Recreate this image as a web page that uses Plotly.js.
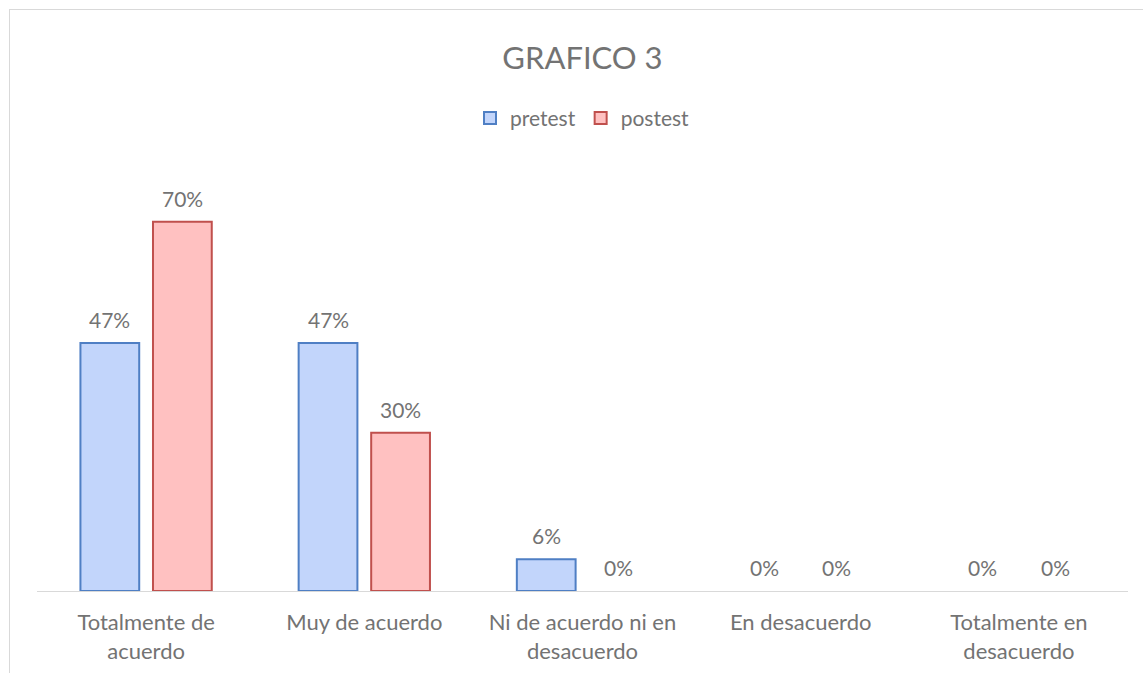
<!DOCTYPE html>
<html>
<head>
<meta charset="utf-8">
<script src="https://cdn.plot.ly/plotly-3.0.1.min.js"></script>
<style>
  html, body { margin: 0; padding: 0; background: #fff; }
  #frame { position: absolute; left: 9px; top: 9px; width: 1140px; height: 670px; border: 1px solid #d9d9d9; box-sizing: border-box; }
  #chart { position: absolute; left: 0; top: 0; width: 1143px; height: 673px; }
</style>
</head>
<body>
<div id="frame"></div>
<div id="chart"></div>
<script>
const categories = ["Totalmente de<br>acuerdo", "Muy de acuerdo", "Ni de acuerdo ni en<br>desacuerdo", "En desacuerdo", "Totalmente en<br>desacuerdo"];
const seriesNames = ["pretest", "postest"];
const pretest = [47, 47, 6, 0, 0];
const postest = [70, 30, 0, 0, 0];

const FONT = "Lato, 'Open Sans', sans-serif";
const GRAY = "#737373";
const W = 1143, H = 673;
const M = { l: 37, r: 15, t: 169, b: 82 };
const BARGAP = 0.335, GROUPGAP = 0.19;

const fills = ["#c2d5fb", "#ffc1c1"];
const edges = ["#4f7fc4", "#c0504d"];
const data = [pretest, postest];

const traces = data.map((vals, i) => ({
  type: "bar", name: seriesNames[i], x: categories, y: vals,
  marker: { color: fills[i], line: { color: edges[i], width: vals.map(v => v > 0 ? 2 : 0) } },
  hoverinfo: "skip"
}));

// data labels above each bar, placed through the axes
const catWidth = (W - M.l - M.r) / categories.length;
const slot = catWidth * (1 - BARGAP) / 2;
const annotations = [];
data.forEach((vals, i) => {
  vals.forEach((v, j) => {
    annotations.push({
      x: categories[j], y: v, xref: "x", yref: "y",
      text: v + "%", showarrow: false,
      xshift: (i === 0 ? -1 : 1) * slot / 2,
      yanchor: "bottom", yshift: 9,
      font: { family: FONT, size: 21, color: GRAY }
    });
  });
});

const layout = {
  width: W, height: H,
  paper_bgcolor: "rgba(0,0,0,0)", plot_bgcolor: "rgba(0,0,0,0)",
  margin: M,
  font: { family: FONT, color: GRAY, size: 21 },
  title: { text: "GRAFICO 3", font: { family: FONT, size: 31, color: GRAY }, x: 0.5096, xanchor: "center", y: 1 - 58/673, yanchor: "middle" },
  showlegend: true,
  legend: { orientation: "h", x: 0.5, xanchor: "center", y: 1.12, yanchor: "middle", font: { family: FONT, size: 21, color: GRAY }, itemclick: false },
  barmode: "group", bargap: BARGAP, bargroupgap: GROUPGAP,
  xaxis: { showline: true, linecolor: "#d9d9d9", linewidth: 1, ticks: "", showgrid: false, tickfont: { family: FONT, size: 22, color: GRAY }, ticklabelstandoff: 12, fixedrange: true },
  yaxis: { range: [0, 80], visible: false, showgrid: false, zeroline: false, fixedrange: true },
  annotations: annotations
};

Plotly.newPlot("chart", traces, layout, { displayModeBar: false, staticPlot: true });
</script>
</body>
</html>
